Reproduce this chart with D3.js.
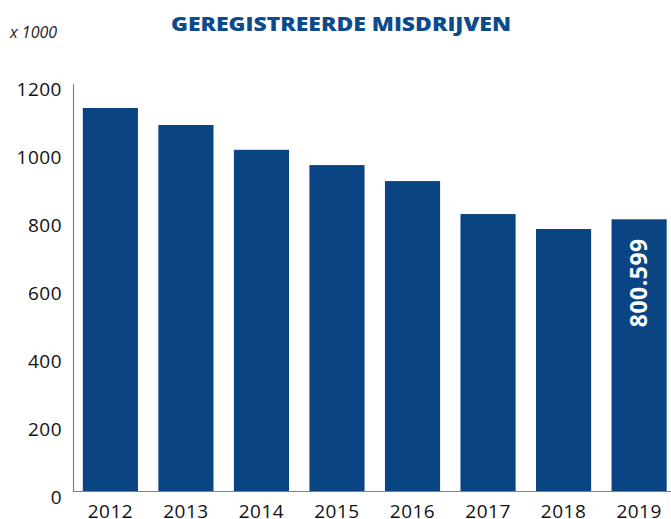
<!DOCTYPE html>
<html>
<head>
<meta charset="utf-8">
<script src="https://cdn.jsdelivr.net/npm/d3@7"></script>
<style>
  body { margin: 0; background: #fff; }
  text { font-family: "Open Sans", sans-serif; }
</style>
</head>
<body>
<script>
// data (x 1000)
const years = ['2012', '2013', '2014', '2015', '2016', '2017', '2018', '2019'];
const values = [1128, 1078, 1005, 960, 913, 816, 772, 800.599];
const yTicks = [0, 200, 400, 600, 800, 1000, 1200];

const width = 671, height = 519;
const barColor = '#0b4482';

const svg = d3.select('body').append('svg').attr('width', width).attr('height', height);

const x = d3.scaleBand().domain(years).range([73, 676.5]).paddingInner(0.27).paddingOuter(0.13);
const y = d3.scaleLinear().domain([0, 1200]).range([491.5, 83.5]);

// title
svg.append('text')
  .attr('x', 341).attr('y', 31)
  .attr('text-anchor', 'middle')
  .attr('fill', '#0d4a8c')
  .style('font-weight', 800)
  .style('font-size', '20px')
  .attr('textLength', 340)
  .attr('lengthAdjust', 'spacingAndGlyphs')
  .text('GEREGISTREERDE MISDRIJVEN');

svg.append('text')
  .attr('x', 10).attr('y', 38)
  .style('font-style', 'italic')
  .style('font-size', '16px')
  .attr('fill', '#222')
  .text('x 1000');

// bars
svg.selectAll('rect.bar')
  .data(values)
  .enter()
  .append('rect')
    .attr('class', 'bar')
    .attr('x', (d, i) => x(years[i]))
    .attr('y', d => y(d))
    .attr('width', x.bandwidth())
    .attr('height', d => y(0) - y(d))
    .attr('fill', barColor);

// y axis
const yAxis = svg.append('g')
  .attr('transform', 'translate(73,0)')
  .call(d3.axisLeft(y).tickValues(yTicks).tickSize(0).tickPadding(11).tickFormat(d3.format('d')));
yAxis.select('.domain').attr('stroke', '#808080').attr('stroke-width', 1.2);
yAxis.selectAll('text')
  .attr('dy', '0.62em')
  .style('font-size', '19px')
  .style('letter-spacing', '0.5px')
  .style('font-family', '"Open Sans", sans-serif')
  .attr('fill', '#111');

// x axis
const xAxis = svg.append('g')
  .attr('transform', 'translate(0,' + y(0) + ')')
  .call(d3.axisBottom(x).tickSize(0).tickPadding(13));
xAxis.select('.domain').attr('d', 'M73,0H671').attr('stroke', '#808080').attr('stroke-width', 1.2);
xAxis.selectAll('text')
  .style('font-size', '19px')
  .style('letter-spacing', '0.5px')
  .style('font-family', '"Open Sans", sans-serif')
  .attr('fill', '#111');

// value label on last bar
const last = years.length - 1;
svg.append('text')
  .attr('transform', 'translate(' + (x(years[last]) + x.bandwidth() / 2 + 8) + ',' + (y(values[last]) + 19) + ') rotate(-90)')
  .attr('text-anchor', 'end')
  .attr('fill', '#fff')
  .style('font-weight', 700)
  .style('font-size', '23px')
  .style('letter-spacing', '0.5px')
  .text(d3.format('.3f')(values[last]));
</script>
</body>
</html>
